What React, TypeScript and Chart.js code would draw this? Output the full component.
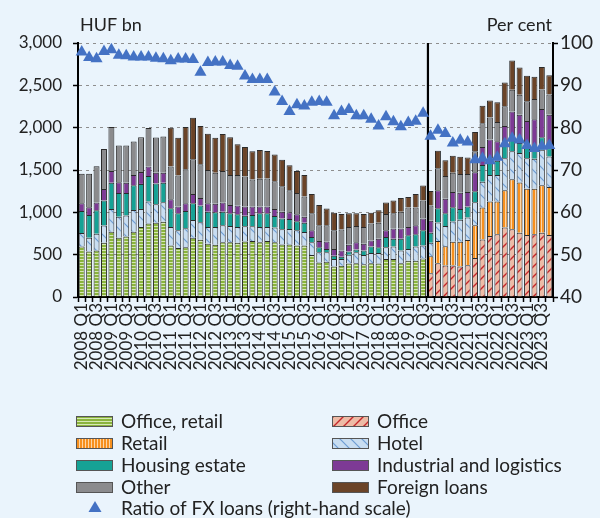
import React, { useEffect, useRef } from "react";
import { Chart, registerables } from "chart.js";

Chart.register(...registerables);

// ---- Categories ----
const years = [2008, 2009, 2010, 2011, 2012, 2013, 2014, 2015, 2016, 2017, 2018, 2019, 2020, 2021, 2022, 2023];
const quarterNames = ["Q1", "Q2", "Q3", "Q4"];
const labels: string[] = [];
years.forEach((y) => quarterNames.forEach((q) => labels.push(`${y} ${q}`)));

// ---- Series (HUF bn) ----
const N = null;
// 2008 Q1 – 2019 Q3 combined office + retail
const officeRetail = [
  596, 536, 548, 640, 772, 700, 716, 772, 828, 868, 876, 888,
  608, 580, 588, 700, 676, 628, 616, 648, 648, 640, 656, 660,
  648, 660, 648, 620, 620, 608, 608, 496, 408, 416, 360, 368,
  396, 400, 388, 400, 396, 448, 448, 400, 428, 428, 456,
  N, N, N, N, N, N, N, N, N, N, N, N, N, N, N, N, N,
];
const office = [
  N, N, N, N, N, N, N, N, N, N, N, N, N, N, N, N, N, N, N, N, N, N, N, N,
  N, N, N, N, N, N, N, N, N, N, N, N, N, N, N, N, N, N, N, N, N, N, N,
  280, 400, 372, 372, 360, 376, 460, 680, 720, 740, 820, 800, 760, 732, 740, 760, 732,
];
const retail = [
  N, N, N, N, N, N, N, N, N, N, N, N, N, N, N, N, N, N, N, N, N, N, N, N,
  N, N, N, N, N, N, N, N, N, N, N, N, N, N, N, N, N, N, N, N, N, N, N,
  200, 260, 228, 280, 292, 296, 388, 376, 408, 388, 440, 592, 592, 548, 540, 560, 568,
];
const hotel = [
  160, 164, 200, 204, 268, 248, 248, 256, 212, 260, 220, 232,
  220, 208, 224, 208, 208, 200, 212, 200, 192, 188, 180, 176,
  180, 168, 172, 180, 184, 180, 160, 152, 120, 112, 88, 80,
  104, 128, 108, 120, 124, 140, 148, 148, 140, 168, 152,
  160, 220, 240, 240, 260, 268, 272, 304, 312, 312, 380, 328, 348, 360, 352, 420, 360,
];
const housing = [
  260, 268, 276, 296, 308, 280, 264, 292, 296, 300, 244, 228,
  220, 200, 204, 200, 196, 180, 172, 160, 148, 148, 124, 132,
  160, 160, 136, 128, 116, 108, 108, 60, 60, 40, 40, 28,
  36, 32, 52, 76, 68, 120, 92, 140, 160, 144, 180,
  120, 168, 148, 168, 128, 128, 128, 200, 200, 168, 160, 140, 120, 160, 148, 148, 96,
];
const industrial = [
  92, 92, 92, 136, 140, 128, 120, 120, 140, 112, 128, 120,
  108, 80, 92, 108, 88, 100, 100, 108, 100, 104, 108, 100,
  80, 80, 84, 80, 80, 80, 72, 80, 72, 88, 80, 72,
  80, 88, 80, 72, 100, 80, 120, 120, 100, 108, 140,
  140, 212, 172, 180, 192, 172, 224, 212, 220, 232, 220, 332, 332, 280, 320, 332, 396,
];
const other = [
  348, 396, 428, 472, 520, 432, 440, 396, 412, 456, 416, 428,
  384, 368, 400, 412, 400, 392, 368, 372, 352, 360, 356, 320,
  328, 332, 328, 300, 260, 252, 240, 200, 188, 192, 220, 248,
  212, 192, 200, 200, 188, 192, 180, 200, 228, 208, 212,
  180, 260, 268, 228, 220, 212, 248, 280, 260, 228, 232, 256, 236, 232, 240, 232, 240,
];
const foreign = [
  N, N, N, N, N, N, N, N, N, N, N, N,
  460, 444, 500, 488, 452, 428, 412, 436, 448, 364, 348, 332,
  340, 324, 316, 312, 296, 260, 252, 228, 240, 196, 208, 184,
  160, 148, 152, 128, 148, 136, 152, 160, 124, 160, 176,
  172, 208, 188, 200, 204, 196, 228, 208, 200, 232, 280, 344, 324, 300, 260, 264, 228,
];
// ---- Ratio of FX loans (per cent, right-hand scale) ----
const fxRatio = [
  97.9, 96.6, 96.3, 98.0, 98.4, 97.1, 97.0, 96.7, 96.7, 96.7, 96.4, 96.3,
  95.8, 96.2, 96.2, 96.1, 93.1, 95.4, 95.5, 95.5, 94.7, 94.5, 92.2, 91.4,
  91.4, 91.4, 88.4, 86.2, 83.8, 85.4, 85.1, 86.0, 86.2, 86.0, 82.8, 83.8,
  84.3, 82.8, 82.8, 82.0, 80.4, 82.6, 81.4, 80.2, 81.2, 81.5, 83.4,
  78.0, 79.4, 78.6, 76.4, 77.0, 76.6, 72.4, 72.8, 72.2, 73.0, 76.2, 77.5, 77.1, 75.8, 75.1, 75.6, 75.8,
];

const splitIndex = 47; // first quarter with separate office / retail breakdown
const FONT = "Lato, 'Open Sans', sans-serif";
const TEXT = "#222222";

function makePattern(kind: string): CanvasPattern | string {
  const c = document.createElement("canvas");
  const ctx = c.getContext("2d");
  if (!ctx) return "#999";
  if (kind === "green") {
    c.width = 4; c.height = 3;
    ctx.fillStyle = "#8AB43C"; ctx.fillRect(0, 0, 4, 3);
    ctx.fillStyle = "#D6E8B4"; ctx.fillRect(0, 1, 4, 1);
  } else if (kind === "orange") {
    c.width = 3; c.height = 4;
    ctx.fillStyle = "#F7901E"; ctx.fillRect(0, 0, 3, 4);
    ctx.fillStyle = "#FDD5A5"; ctx.fillRect(1, 0, 1, 4);
  } else if (kind === "office") {
    const s = 10;
    c.width = s; c.height = s;
    ctx.fillStyle = "#EDBBA6"; ctx.fillRect(0, 0, s, s);
    ctx.strokeStyle = "#C4262B"; ctx.lineWidth = 1.4;
    ctx.beginPath();
    ctx.moveTo(0, s); ctx.lineTo(s, 0);
    ctx.moveTo(-2, 2); ctx.lineTo(2, -2);
    ctx.moveTo(s - 2, s + 2); ctx.lineTo(s + 2, s - 2);
    ctx.stroke();
  } else if (kind === "hotel") {
    const s = 11;
    c.width = s; c.height = s;
    ctx.fillStyle = "#C8DDF1"; ctx.fillRect(0, 0, s, s);
    ctx.strokeStyle = "#6E9DD3"; ctx.lineWidth = 1.2;
    ctx.beginPath();
    ctx.moveTo(0, 0); ctx.lineTo(s, s);
    ctx.moveTo(-2, s - 2); ctx.lineTo(2, s + 2);
    ctx.moveTo(s - 2, -2); ctx.lineTo(s + 2, 2);
    ctx.stroke();
  }
  return ctx.createPattern(c, "repeat") || "#999";
}

export default function App() {
  const ref = useRef<HTMLCanvasElement>(null);

  useEffect(() => {
    if (!ref.current) return;
    const pGreen = makePattern("green");
    const pOrange = makePattern("orange");
    const pOffice = makePattern("office");
    const pHotel = makePattern("hotel");
    const cTeal = "#16A295";
    const cPurple = "#7D3A95";
    const cGray = "#8B8B8D";
    const cBrown = "#6B4428";
    const cBlue = "#4472C4";
    const edge = "#2A2A2A";

    const legendItems = [
      { label: "Office, retail", fill: pGreen, col: 0, row: 0 },
      { label: "Office", fill: pOffice, col: 1, row: 0 },
      { label: "Retail", fill: pOrange, col: 0, row: 1 },
      { label: "Hotel", fill: pHotel, col: 1, row: 1 },
      { label: "Housing estate", fill: cTeal, col: 0, row: 2 },
      { label: "Industrial and logistics", fill: cPurple, col: 1, row: 2 },
      { label: "Other", fill: cGray, col: 0, row: 3 },
      { label: "Foreign loans", fill: cBrown, col: 1, row: 3 },
    ];

    const dividerPlugin = {
      id: "divider",
      afterDatasetDraw(chart: any, args: any) {
        if (args.index !== 1) return;
        const { ctx, chartArea, scales } = chart;
        const x = scales.x.getPixelForValue(splitIndex - 0.35);
        ctx.save();
        ctx.strokeStyle = "#000";
        ctx.lineWidth = 2.2;
        ctx.beginPath();
        ctx.moveTo(x, chartArea.top);
        ctx.lineTo(x, chartArea.bottom);
        ctx.stroke();
        ctx.restore();
      },
    };

    const textPlugin = {
      id: "extras",
      afterDraw(chart: any) {
        const ctx = chart.ctx as CanvasRenderingContext2D;
        ctx.save();
        ctx.font = `18px ${FONT}`;
        ctx.fillStyle = TEXT;
        ctx.textBaseline = "middle";
        ctx.textAlign = "left";
        ctx.fillText("HUF bn", 80, 25);
        ctx.textAlign = "right";
        ctx.fillText("Per cent", 552, 25);

        // legend
        ctx.font = `19px ${FONT}`;
        ctx.textAlign = "left";
        const colX = [76, 332];
        const rowY = [421, 443, 465, 487];
        legendItems.forEach((it) => {
          const x = colX[it.col];
          const y = rowY[it.row];
          ctx.fillStyle = it.fill as any;
          ctx.fillRect(x, y - 5, 37, 11);
          ctx.strokeStyle = "#555";
          ctx.lineWidth = 1;
          ctx.strokeRect(x + 0.5, y - 4.5, 36, 10);
          ctx.fillStyle = TEXT;
          ctx.fillText(it.label, x + 45, y + 1);
        });
        // triangle legend
        const ty = 508;
        ctx.fillStyle = cBlue;
        ctx.beginPath();
        ctx.moveTo(95, ty - 7);
        ctx.lineTo(101.5, ty + 4);
        ctx.lineTo(88.5, ty + 4);
        ctx.closePath();
        ctx.fill();
        ctx.fillStyle = TEXT;
        ctx.fillText("Ratio of FX loans (right-hand scale)", 121, ty + 1);
        ctx.restore();
      },
    };

    const barDs = (label: string, data: any[], bg: any) => ({
      type: "bar" as const,
      label,
      data,
      backgroundColor: bg,
      borderColor: edge,
      borderWidth: 1,
      yAxisID: "y",
      categoryPercentage: 1,
      barPercentage: 0.8,
    });

    const chart = new Chart(ref.current, {
      type: "bar",
      data: {
        labels,
        datasets: [
          {
            type: "line" as const,
            label: "Ratio of FX loans (right-hand scale)",
            data: fxRatio,
            yAxisID: "y2",
            showLine: false,
            pointStyle: "triangle",
            pointRadius: 7,
            pointBackgroundColor: cBlue,
            pointBorderColor: cBlue,
            pointBorderWidth: 0,
          } as any,
          barDs("Office, retail", officeRetail, pGreen),
          barDs("Office", office, pOffice),
          barDs("Retail", retail, pOrange),
          barDs("Hotel", hotel, pHotel),
          barDs("Housing estate", housing, cTeal),
          barDs("Industrial and logistics", industrial, cPurple),
          barDs("Other", other, cGray),
          barDs("Foreign loans", foreign, cBrown),
        ],
      },
      options: {
        responsive: false,
        animation: false,
        layout: { padding: { top: 43, bottom: 123, left: 0, right: 0 } },
        plugins: { legend: { display: false }, tooltip: { enabled: false } },
        scales: {
          x: {
            stacked: true,
            grid: {
              offset: true,
              drawOnChartArea: false,
              drawTicks: true,
              tickLength: 5,
              tickColor: "#000",
              tickWidth: 1.5,
            },
            border: { color: "#000", width: 2 },
            ticks: {
              autoSkip: false,
              maxRotation: 90,
              minRotation: 90,
              padding: 1,
              color: TEXT,
              font: { family: FONT, size: 17 },
              callback: (_v: any, i: number) => (i % 2 === 0 ? labels[i] : ""),
            },
            afterFit: (s: any) => {
              s.height = 98;
            },
          },
          y: {
            stacked: true,
            position: "left",
            min: 0,
            max: 3000,
            ticks: {
              stepSize: 250,
              padding: 11,
              color: TEXT,
              font: { family: FONT, size: 17 },
              callback: (v: any) => Number(v).toLocaleString("en-US"),
            },
            grid: {
              color: "#8E8E8E",
              lineWidth: 1,
              drawTicks: true,
              tickLength: 5,
              tickColor: "#000",
              tickWidth: 1.5,
            },
            border: { color: "#000", width: 2, dash: [3, 4] },
            afterFit: (s: any) => {
              s.width = 78;
            },
          },
          y2: {
            position: "right",
            min: 40,
            max: 100,
            ticks: {
              stepSize: 5,
              padding: 2,
              color: TEXT,
              font: { family: FONT, size: 19 },
            },
            grid: {
              drawOnChartArea: false,
              drawTicks: true,
              tickLength: 5,
              tickColor: "#000",
              tickWidth: 1.5,
            },
            border: { color: "#000", width: 2 },
            afterFit: (s: any) => {
              s.width = 47;
            },
          },
        },
      } as any,
      plugins: [dividerPlugin, textPlugin],
    });
    return () => chart.destroy();
  }, []);

  return (
    <div
      style={{
        position: "absolute",
        left: 0,
        top: 0,
        width: 600,
        height: 518,
        background: "#EAF4FC",
      }}
    >
      <canvas ref={ref} width={600} height={518} style={{ display: "block" }} />
    </div>
  );
}
